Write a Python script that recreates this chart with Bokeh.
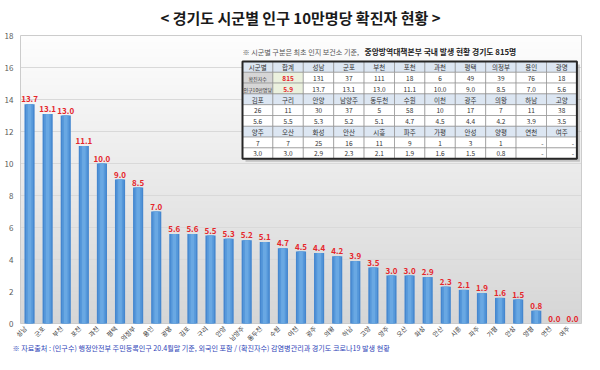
import numpy as np
from bokeh.plotting import figure
from bokeh.models import Range1d, ColumnDataSource
from bokeh.core.properties import value
from bokeh.embed import file_html
from bokeh.resources import INLINE

# ---------------- data ----------------
cities = ["성남", "군포", "부천", "포천", "과천", "평택", "의정부", "용인", "광명", "김포",
          "구리", "안양", "남양주", "동두천", "수원", "이천", "광주", "의왕", "하남", "고양",
          "양주", "오산", "화성", "안산", "시흥", "파주", "가평", "안성", "양평", "연천", "여주"]
rate = [13.7, 13.1, 13.0, 11.1, 10.0, 9.0, 8.5, 7.0, 5.6, 5.6,
        5.5, 5.3, 5.2, 5.1, 4.7, 4.5, 4.4, 4.2, 3.9, 3.5,
        3.0, 3.0, 2.9, 2.3, 2.1, 1.9, 1.6, 1.5, 0.8, 0.0, 0.0]
cases = [131, 37, 111, 18, 6, 49, 39, 76, 18, 26,
         11, 30, 37, 5, 58, 10, 17, 7, 11, 38,
         7, 7, 25, 16, 11, 9, 1, 3, 1, 0, 0]
total_cases = 815
total_rate = 5.9
y_ticks = [0, 2, 4, 6, 8, 10, 12, 14, 16, 18]

title_text = "< 경기도 시군별 인구 10만명당 확진자 현황 >"
note_plain = "※ 시군별 구분은 최초 인지 보건소 기준,"
note_bold = "중앙방역대책본부 국내 발생 현황 경기도 815명"
source_text = "※ 자료출처 : (인구수) 행정안전부 주민등록인구 20.4월말 기준, 외국인 포함 / (확진자수) 감염병관리과 경기도 코로나19 발생 현황"
row_head = ["시군별", "합계"]
row_lbl = ["확진자수", "인구10만명당"]

FONT = "Noto Sans CJK KR"

# ---------------- layout (canvas pixel <-> data) ----------------
W, H = 584, 354
PX_L, PX_R = 20, 581      # plot-area left/right in pixels
PX_T, PX_B = 35, 323      # plot-area top/bottom in pixels
N = len(cities)
ux = (PX_R - PX_L) / N            # px per x unit
uy = (PX_B - PX_T) / 18.0         # px per y unit
XMIN = -0.5 - PX_L / ux
XMAX = N - 0.5 + (W - PX_R) / ux
YMAX = 18 + PX_T / uy
YMIN = -(H - PX_B) / uy

p = figure(width=W, height=H, output_backend="svg", toolbar_location=None,
           x_range=Range1d(XMIN, XMAX), y_range=Range1d(YMIN, YMAX),
           x_axis_location=None, y_axis_location=None,
           min_border=0, min_border_left=0, min_border_right=0,
           min_border_top=0, min_border_bottom=0)
p.background_fill_color = "white"
p.border_fill_color = "white"
p.outline_line_color = None
p.xgrid.visible = False
p.ygrid.visible = False

def dx(px):
    return XMIN + px / ux

def dy(py):
    return YMAX - py / uy

# gradient background of plot area
n = 200
t = np.linspace(0, 1, n)  # 0 bottom -> 1 top
c = (0xd6 + (0xfe - 0xd6) * t).astype(np.uint32)
img = np.empty((n, 1), dtype=np.uint32)
view = img.view(dtype=np.uint8).reshape((n, 1, 4))
view[:, 0, 0] = c
view[:, 0, 1] = c
view[:, 0, 2] = c
view[:, 0, 3] = 255
bg = p.image_rgba(image=[img], x=-0.5, y=0, dw=N, dh=18)
bg.level = "image"

# grid lines
gy = y_ticks[1:-1]
p.segment(x0=[-0.5] * len(gy), x1=[N - 0.5] * len(gy), y0=gy, y1=gy,
          line_color="#d9d9d9", line_width=1)
# plot-area border
p.quad(left=-0.5, right=N - 0.5, bottom=0, top=18, fill_color=None,
       line_color="#cccccc", line_width=1)

# y tick labels
p.text(x=[dx(13)] * len(y_ticks), y=y_ticks, text=[str(v) for v in y_ticks],
       text_align="right", text_baseline="middle",
       text_font=value(FONT), text_font_size="8px", text_color="#595959")

xs = list(range(N))

# bars (cylinder-like shading)
src = ColumnDataSource(dict(x=xs, v=rate, lbl=[f"{r:.1f}" for r in rate]))
p.vbar(x="x", top="v", bottom=0, width=0.56, source=src, fill_color="#4587cf", line_color=None)
p.vbar(x="x", top="v", bottom=0, width=0.40, source=src, fill_color="#5698da", line_color=None)
p.vbar(x="x", top="v", bottom=0, width=0.20, source=src, fill_color="#69a8e3", line_color=None)

p.text(x="x", y="v", text="lbl", source=src, y_offset=-2,
       text_align="center", text_baseline="bottom",
       text_font=value(FONT), text_font_size="8px", text_font_style="bold",
       text_color="#e5262b")

# x category labels (rotated 45deg, reading upward, ending just below each bar)
p.text(x=xs, y=[0] * N, text=cities, angle=np.pi / 4, x_offset=-4, y_offset=4,
       text_align="right", text_baseline="middle",
       text_font=value(FONT), text_font_size="6.3px", text_color="#333333")

# ---------------- table ----------------
rows = [row_head + cities[0:9],
        [row_lbl[0], str(total_cases)] + [str(v) for v in cases[0:9]],
        [row_lbl[1], f"{total_rate:.1f}"] + [f"{v:.1f}" for v in rate[0:9]]]
for k in (9, 20):
    seg = slice(k, k + 11)
    rows.append(cities[seg])
    rows.append([str(v) if v else "-" for v in cases[seg]])
    rows.append([f"{r:.1f}" if cs else "-" for r, cs in zip(rate[seg], cases[seg])])

T_L, T_T = 242, 61
CW, RH = 30.4, 10.8
ncol, nrow = 11, 9

# shadow
p.quad(left=dx(T_L + 3), right=dx(T_L + CW * ncol + 3), top=dy(T_T + 3), bottom=dy(T_T + RH * nrow + 3),
       fill_color="#9a9a9a", fill_alpha=0.5, line_color=None)

ql, qr, qt, qb, qc = [], [], [], [], []
tx, ty, tt, tc, tw, ta, ts = [], [], [], [], [], [], []
for r in range(nrow):
    for ci in range(ncol):
        l = T_L + ci * CW
        tp = T_T + r * RH
        ql.append(dx(l)); qr.append(dx(l + CW)); qt.append(dy(tp)); qb.append(dy(tp + RH))
        if r % 3 == 0:
            col = "#dce6f2"
        elif r in (1, 2) and ci == 0:
            col = "#d6d6d6"
        elif r in (1, 2) and ci == 1:
            col = "#ebf1de"
        else:
            col = "#ffffff"
        qc.append(col)
        txt = rows[r][ci]
        if txt == "-":
            tx.append(dx(l + CW - 3)); ta.append("right")
        else:
            tx.append(dx(l + CW / 2)); ta.append("center")
        ty.append(dy(tp + RH / 2 + 0.5))
        tt.append(txt)
        red = r in (1, 2) and ci == 1
        tc.append("#e5262b" if red else "#333333")
        tw.append("bold" if red else "normal")
        ts.append("5px" if (r in (1, 2) and ci == 0) else "6.5px")

p.quad(left=ql, right=qr, top=qt, bottom=qb, fill_color=qc, line_color="#8a8a8a", line_width=0.6)
tsrc = ColumnDataSource(dict(x=tx, y=ty, t=tt, c=tc, w=tw, a=ta, s=ts))
p.text(x="x", y="y", text="t", text_align="a", text_baseline="middle", source=tsrc,
       text_font=value(FONT), text_font_size="s", text_color="c", text_font_style="w")
p.quad(left=dx(T_L), right=dx(T_L + CW * ncol), top=dy(T_T), bottom=dy(T_T + RH * nrow),
       fill_color=None, line_color="#262626", line_width=2)

# note above table
p.text(x=[dx(242)], y=[dy(51)], text=[note_plain], text_align="left", text_baseline="middle",
       text_font=value(FONT), text_font_size="7.1px", text_color="#555555")
p.text(x=[dx(364)], y=[dy(51)], text=[note_bold], text_align="left", text_baseline="middle",
       text_font=value(FONT), text_font_size="7.8px", text_font_style="bold", text_color="#222222")

# title
p.text(x=[dx(300)], y=[dy(17)], text=[title_text], text_align="center", text_baseline="middle",
       text_font=value(FONT), text_font_size="15px", text_font_style="bold", text_color="#1a1a1a")

# source note
p.text(x=[dx(12)], y=[dy(347.5)], text=[source_text], text_align="left", text_baseline="middle",
       text_font=value(FONT), text_font_size="7.1px", text_color="#2f45b8")

open("out.html", "w").write(file_html(p, INLINE))
